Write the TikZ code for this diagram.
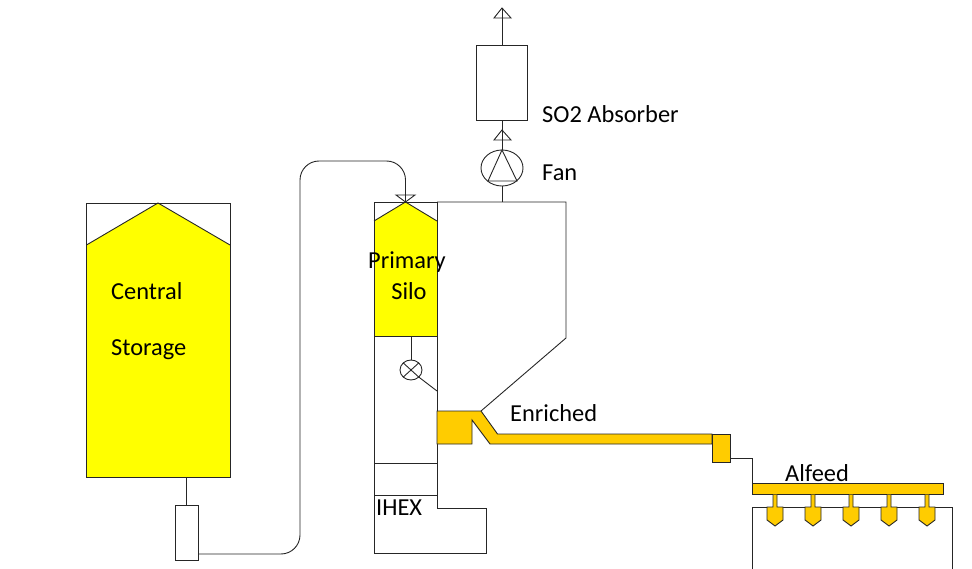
\documentclass[tikz,border=0pt]{standalone}
\usepackage{fontspec}
\setmainfont{Carlito}
\usepackage{xcolor}
\usetikzlibrary{arrows.meta,positioning,shapes.geometric}
\definecolor{silofill}{HTML}{FFFF00}
\definecolor{meltfill}{HTML}{FFCC00}
\definecolor{plantline}{HTML}{262626}
\begin{document}
\begin{tikzpicture}[x=1pt, y=-1pt, font=\fontsize{24.4}{28}\selectfont,
  line/.style={draw=plantline, line width=0.9pt},
  vessel/.style={line, rectangle, inner sep=0pt, outer sep=0pt},
  melt/.style={line, fill=meltfill, line join=miter},
  silo/.style={fill=silofill, draw=none},
  tag/.style={inner sep=0pt, anchor=west}]
\useasboundingbox (0,0) rectangle (972,569);
% storage silo and transfer vessel
\fill[silo] (86.5,245) -- (158,203) -- (230,245) -- (230,477) -- (86.5,477) -- cycle;
\node[vessel, minimum width=143.5pt, minimum height=274pt] (central) at (158.25,340) {};
\draw[line] (86.5,245) -- (158,203) -- (230,245);
\node[vessel, minimum width=23pt, minimum height=55pt] (vessel) at (186.5,532.5) {};
\draw[line] (vessel.north) -- (vessel.north|-central.south);
\node[tag] (central1) at (111,291.5) {Central};
\node[tag] (storage) at (111,350) {Storage};
% primary silo column
\fill[silo] (374,221) -- (405.5,202) -- (437,221) -- (437,336) -- (374,336) -- cycle;
\draw[line] (437,411) -- (437,202) -- (374,202) -- (374,553) -- (486,553) -- (486,508) -- (437,508) -- (437,444);
\draw[line] (374,221) -- (405.5,202) -- (437,221);
\draw[line] (374,336) -- (437,336);
\draw[line] (374,463) -- (437,463);
\draw[line] (374,495) -- (437,495);
\coordinate (inlet) at (405.5,202);
\draw[line, rounded corners=19pt] (vessel.east|-0,554) -- (300,554) -- (300,161) -- (405.5,161) -- (inlet);
\draw[line] (396,195) -- (415,195) -- (inlet) -- cycle;
\node[line, ellipse, minimum width=22pt, minimum height=20pt, inner sep=0pt, outer sep=0pt] (valve) at (411,370) {};
\draw[line] (valve.north) -- (valve.north|-0,336);
\draw[line] (valve.north west) -- (valve.south east);
\draw[line] (valve.north east) -- (valve.south west);
\coordinate (wall) at (437,391);
\draw[line] (valve.south east) -- (wall);
\node (primary) at (407,262.5) {Primary};
\node (silotag) at (409,291.5) {Silo};
\node[tag] (ihex) at (376,508) {IHEX};
% hopper with fan and absorber
\draw[line] (437,202) -- (566,202) -- (566,338) -- (481,411);
\node[line, ellipse, minimum width=42pt, minimum height=36pt, inner sep=0pt, outer sep=0pt] (fan) at (502,168) {};
\draw[line] (fan.north) -- (488,181) -- (517,181) -- cycle;
\node[vessel, minimum width=51pt, minimum height=75pt] (absorber) at (502,82.5) {};
\coordinate (hopper) at (502,202);
\coordinate (stack) at (502,8);
\draw[line] (hopper) -- (fan.south);
\draw[line] (fan.north) -- (absorber.south);
\draw[line] (absorber.north) -- (stack);
\draw[line] (stack) -- (511,18) -- (494,18) -- cycle;
\draw[line] (502,130) -- (511,140) -- (494,140) -- cycle;
\node[tag] (so2) at (542,114) {SO2 Absorber};
\node[tag] (fantag) at (542,173) {Fan};
% launder
\draw[melt] (437,411) -- (481,411) -- (497.5,434) -- (712,434) -- (712,444) -- (490,444) -- (472,420) -- (472,444) -- (437,444) -- cycle;
\node[melt, rectangle, minimum width=18pt, minimum height=28pt, inner sep=0pt, outer sep=0pt] (pot) at (721,448) {};
\node[tag] (enriched) at (510,413.5) {Enriched};
% furnace and feeders
\draw[line] (752,569) -- (752,507) -- (952,507) -- (952,569);
\node[melt, rectangle, minimum width=191.5pt, minimum height=11.5pt, inner sep=0pt, outer sep=0pt] (bar) at (847.75,488.75) {};
\draw[line] (pot.east|-0,458) -| (bar.north west);
\foreach \i/\xpos in {1/775,2/813,3/851,4/889,5/927}{
  \draw[melt] (\xpos-2,494.5) -- (\xpos-2,507) -- (\xpos-8,507) -- (\xpos-8,520) -- (\xpos,526) -- (\xpos+8,520) -- (\xpos+8,507) -- (\xpos+2,507) -- (\xpos+2,494.5);
}
\node[tag] (alfeed) at (785,473.5) {Alfeed};
\end{tikzpicture}
\end{document}
